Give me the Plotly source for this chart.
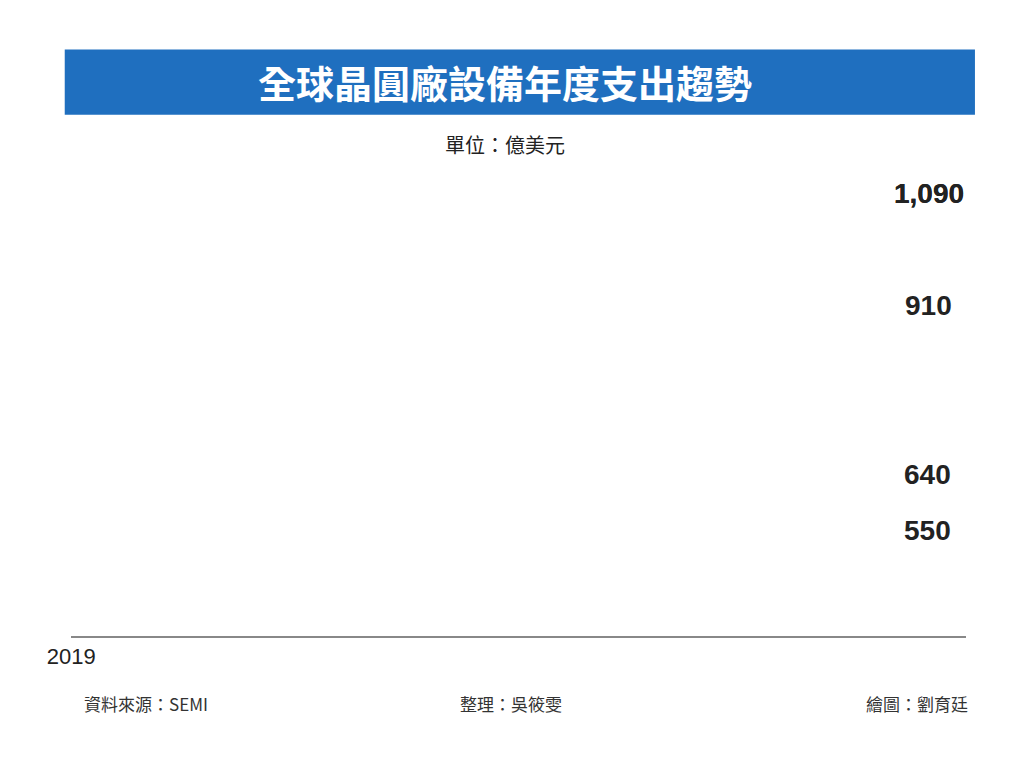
import plotly.graph_objects as go

years = ["2019", "2020", "2021", "2022", "2023"]
spend = [550, 640, 910, 1090, 1090]
est_flag = ["", "", "", "估", "估"]
value_labels = ["550", "640", "910", "1,090", "1,090"]
base_val = 462

font_cjk = "Noto Sans CJK TC, Noto Sans CJK SC, sans-serif"

fig = go.Figure()
fig.add_trace(go.Bar(
    x=years, y=[v - base_val for v in spend], base=base_val,
    marker=dict(color="#33a8e6", line=dict(color="white", width=3)),
    text=est_flag, textposition="inside", insidetextanchor="start",
    textfont=dict(color="white", size=28, family=font_cjk),
    hoverinfo="skip",
))

for yr, v, lab in zip(years, spend, value_labels):
    fig.add_annotation(x=yr, y=v, text=f"<b>{lab}</b>", showarrow=False, yshift=40,
                       font=dict(size=28, color="#222", family="Liberation Sans"))

fig.add_shape(type="rect", xref="paper", yref="paper", x0=-0.007, x1=1.01, y0=1.114, y1=1.253,
              fillcolor="#1f6fbf", line_width=0, layer="below")
fig.add_annotation(xref="paper", yref="paper", x=0.485, y=1.185, yanchor="middle", showarrow=False,
                   text="<b>全球晶圓廠設備年度支出趨勢</b>", font=dict(size=38, color="white", family=font_cjk))
fig.add_annotation(xref="paper", yref="paper", x=0.485, y=1.05, yanchor="middle", showarrow=False,
                   text="單位：億美元", font=dict(size=20, color="#222", family=font_cjk))
foot = dict(xref="paper", yref="paper", y=-0.145, yanchor="middle", showarrow=False,
            font=dict(size=17, color="#333", family=font_cjk))
fig.add_annotation(x=0.012, xanchor="left", text="資料來源：SEMI", **foot)
fig.add_annotation(x=0.492, text="整理：吳筱雯", **foot)
fig.add_annotation(x=1.005, xanchor="right", text="繪圖：劉育廷", **foot)

fig.update_layout(
    width=1024, height=777, margin=dict(l=63, r=66, t=160, b=149),
    paper_bgcolor="white", plot_bgcolor="white", bargap=0.6, showlegend=False,
    xaxis=dict(type="category", showline=True, linecolor="#888", linewidth=1.5, ticks="",
               tickfont=dict(size=22, color="#222", family="Liberation Sans")),
    yaxis=dict(range=[446, 1194], visible=False),
)
fig.write_html("out.html")
